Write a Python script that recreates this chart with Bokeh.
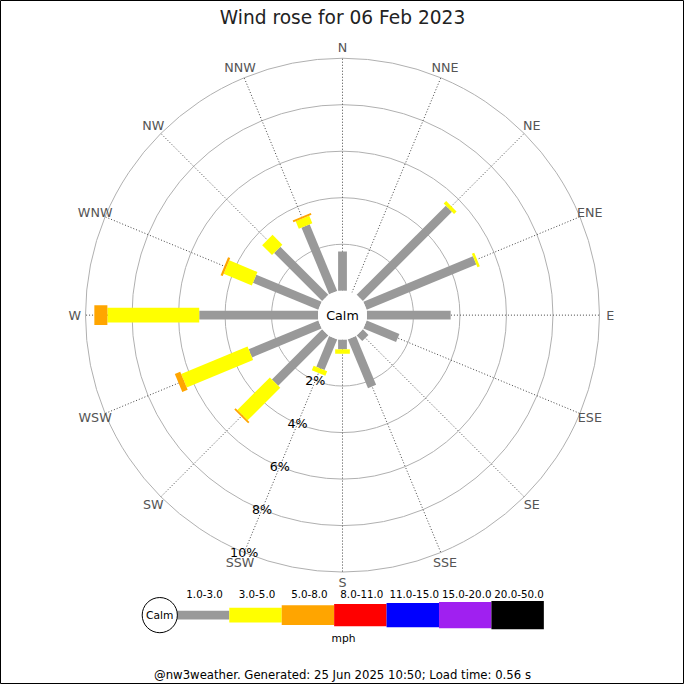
import numpy as np
from bokeh.plotting import figure
from bokeh.models import Range1d, ColumnDataSource
from bokeh.core.properties import value
from bokeh.embed import file_html
from bokeh.resources import INLINE

# ---------------- data ----------------
title_text = "Wind rose for 06 Feb 2023"
footer_text = "@nw3weather. Generated: 25 Jun 2025 10:50; Load time: 0.56 s"
directions = ["N", "NNE", "NE", "ENE", "E", "ESE", "SE", "SSE",
              "S", "SSW", "SW", "WSW", "W", "WNW", "NW", "NNW"]
# percentage of time per direction, per speed band (mph)
pct_1_3 = [1.69, 0.00, 5.42, 5.10, 3.60, 1.52, 0.34, 2.27,
           0.42, 1.43, 3.05, 3.24, 5.11, 3.04, 2.92, 3.10]
pct_3_5 = [0.00, 0.00, 0.15, 0.11, 0.00, 0.00, 0.00, 0.00,
           0.19, 0.21, 1.98, 3.09, 3.95, 1.31, 0.60, 0.35]
pct_5_8 = [0.00, 0.00, 0.00, 0.00, 0.00, 0.00, 0.00, 0.00,
           0.00, 0.00, 0.08, 0.25, 0.56, 0.10, 0.00, 0.08]
ring_pcts = [2, 4, 6, 8, 10]
ring_labels = ["2%", "4%", "6%", "8%", "10%"]
band_labels = ["1.0-3.0", "3.0-5.0", "5.0-8.0", "8.0-11.0",
               "11.0-15.0", "15.0-20.0", "20.0-50.0"]
unit_label = "mph"
calm_label = "Calm"

# ---------------- styles ----------------
band_colors = ["#999999", "#ffff00", "#ffa500", "#ff0000",
               "#0000ff", "#a020f0", "#000000"]
band_thick = [9, 15, 20, 23, 25, 27, 29]
FONT = value("DejaVu Sans")
W = H = 684
S = W / 700.0          # page scale relative to the 700px design
R0 = 25.0              # calm circle radius (design px)
PX_PER_PCT = 23.8      # radial scale (design px per %)

def fs(px):
    return "%.1fpx" % (px * S)

def rad(v):
    return R0 + v * PX_PER_PCT

# design coordinates: x = X - 350, y = 322 - Y  (X, Y in 700px design)
p = figure(width=W, height=H, output_backend="svg", toolbar_location=None,
           x_range=Range1d(-350, 350), y_range=Range1d(322 - 700, 322),
           x_axis_type=None, y_axis_type=None, min_border=0,
           background_fill_color="white", border_fill_color="white")
p.grid.visible = False
p.outline_line_color = "black"
p.outline_line_width = 1

theta = np.deg2rad(np.arange(16) * 22.5)   # compass angle
phi = np.pi / 2 - theta                    # math angle
ux, uy = np.cos(phi), np.sin(phi)

# rings
p.circle(x=[0] * len(ring_pcts), y=[0] * len(ring_pcts),
         radius=[rad(v) for v in ring_pcts],
         fill_color=None, line_color="#b0b0b0", line_width=1)

# spokes
r_out = rad(ring_pcts[-1])
p.segment(x0=ux * R0, y0=uy * R0, x1=ux * r_out, y1=uy * r_out,
          line_color="#444444", line_width=1, line_dash="1 2")

# bars
bands = [pct_1_3, pct_3_5, pct_5_8]
cum = np.zeros(16)
for bi, band in enumerate(bands):
    band = np.array(band)
    start = cum.copy()
    cum = cum + band
    m = band > 0
    r_s, r_e = rad(start[m]), rad(cum[m])
    rm = (r_s + r_e) / 2
    src = ColumnDataSource(dict(x=rm * ux[m], y=rm * uy[m],
                                w=r_e - r_s, a=phi[m]))
    p.rect(x="x", y="y", width="w", height=band_thick[bi], angle="a",
           source=src, fill_color=band_colors[bi], line_color=None)

# calm circle
p.circle(x=[0], y=[0], radius=R0, fill_color="white", line_color=None)
p.text(x=[0], y=[0], text=[calm_label], text_font=FONT, text_font_size=fs(13),
       text_color="black", text_align="center", text_baseline="middle")

# direction labels
RL = 274
p.text(x=ux * RL, y=uy * RL, text=directions, text_font=FONT,
       text_font_size=fs(13), text_color="#555555",
       text_align="center", text_baseline="middle")

# ring labels along SSW
ssw = directions.index("SSW")
p.text(x=[rad(v) * ux[ssw] for v in ring_pcts],
       y=[rad(v) * uy[ssw] for v in ring_pcts],
       text=ring_labels, text_font=FONT, text_font_size=fs(13),
       text_color="black", text_align="center", text_baseline="middle")

# title and footer
p.text(x=[0], y=[322 - 17], text=[title_text], text_font=FONT,
       text_font_size=fs(19), text_color="#222222",
       text_align="center", text_baseline="middle")
p.text(x=[0], y=[322 - 690], text=[footer_text], text_font=FONT,
       text_font_size=fs(12), text_color="black",
       text_align="center", text_baseline="middle")

# legend
LY = 322 - 629
step = 53.65
left0 = 180.5 - 350
lx = [left0 + step * (i + 0.5) for i in range(len(band_labels))]
p.rect(x=lx, y=[LY] * len(lx), width=step, height=band_thick,
       fill_color=band_colors, line_color=None)
p.circle(x=[163 - 350], y=[LY], radius=18, fill_color="white",
         line_color="black", line_width=1)
p.text(x=[163 - 350], y=[LY], text=[calm_label], text_font=FONT,
       text_font_size=fs(11), text_color="black",
       text_align="center", text_baseline="middle")
p.text(x=[v + 1.5 for v in lx], y=[322 - 607] * len(lx), text=band_labels,
       text_font=FONT, text_font_size=fs(10.5), text_color="black",
       text_align="center", text_baseline="middle")
p.text(x=[351 - 350], y=[322 - 653], text=[unit_label], text_font=FONT,
       text_font_size=fs(11), text_color="black",
       text_align="center", text_baseline="middle")

open("out.html", "w").write(file_html(p, INLINE))
